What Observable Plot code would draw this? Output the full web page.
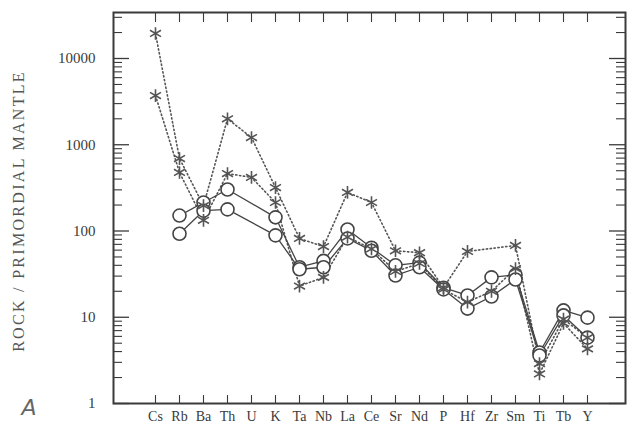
<!DOCTYPE html>
<html>
<head>
<meta charset="utf-8">
<script src="https://cdn.jsdelivr.net/npm/d3@7"></script>
<script src="https://cdn.jsdelivr.net/npm/@observablehq/plot@0.6"></script>
<style>
  html, body { margin: 0; padding: 0; background: #fff; }
  #chart { width: 630px; height: 435px; }
</style>
</head>
<body>
<div id="chart"></div>
<script>
// Categories (elements, x axis)
const elements = ["Cs","Rb","Ba","Th","U","K","Ta","Nb","La","Ce","Sr","Nd","P","Hf","Zr","Sm","Ti","Tb","Y"];
// Open-circle series (solid lines)
const circleA = [null,151,214,303,null,144,38,45,104,64,40,43,22,17.9,29,31,3.9,12,9.9];
const circleB = [null,93,172,178,null,89,36,38,82,59,30.5,38,21,12.6,17.4,27.4,3.6,10.5,5.8];
// Asterisk series (dotted lines)
const starA = [19500,692,197,2000,1213,319,82,66,280,214,59,56,22,58,null,68,2.9,9.5,5.8];
const starB = [3720,477,133,464,418,214,23,29,85,62,34,42,21,15,20,36.7,2.2,8.5,4.3];
// Axis ticks and labels
const yTicks = [1,10,100,1000,10000];
const yMinor = [2,3,4,5,6,7,8,9,20,30,40,50,60,70,80,90,200,300,400,500,600,700,800,900,2000,3000,4000,5000,6000,7000,8000,9000,20000,30000];
const yLabel = ["ROCK / PRIMORDIAL MANTLE"];
const panelLabel = ["A"];

function tidy(values, series) {
  return elements.map((e, i) => ({element: e, value: values[i], series}))
    .filter(d => d.value != null);
}
const circles = [...tidy(circleA, "cA"), ...tidy(circleB, "cB")];
const stars = [...tidy(starA, "sA"), ...tidy(starB, "sB")];

const W = 630, H = 435, mL = 113, mR = 5, mT = 12, mB = 32;
const fw = W - mL - mR, fh = H - mT - mB;
const ink = "#3a3a3a";

const chart = Plot.plot({
  width: W, height: H,
  marginLeft: mL, marginRight: mR, marginTop: mT, marginBottom: mB,
  style: {fontFamily: "Liberation Serif, serif", fontSize: "13px", color: ink, background: "#fff"},
  x: {type: "point", domain: elements, range: [139, 603], axis: null, label: null},
  y: {type: "log", domain: [1, 10000], range: [403, 58], axis: null, label: null},
  marks: [
    // inward ticks
    Plot.ruleY(yTicks, {y: d => d, insetRight: fw - 16, stroke: ink, strokeWidth: 1.3}),
    Plot.ruleY(yMinor, {y: d => d, insetRight: fw - 9, stroke: ink, strokeWidth: 1.1}),
    Plot.ruleY(yTicks, {y: d => d, insetLeft: fw - 16, stroke: ink, strokeWidth: 1.3}),
    Plot.ruleY(yMinor, {y: d => d, insetLeft: fw - 9, stroke: ink, strokeWidth: 1.1}),
    Plot.ruleX(elements, {x: d => d, insetBottom: fh - 10, stroke: ink, strokeWidth: 1.1}),
    Plot.ruleX(elements, {x: d => d, insetTop: fh - 8, stroke: ink, strokeWidth: 1.1}),
    // axes labels
    Plot.axisY({ticks: yTicks, tickSize: 0, tickPadding: 18, tickFormat: d => String(d), fontSize: 15, label: null}),
    Plot.axisX({tickSize: 0, tickPadding: 8, fontSize: 14, label: null}),
    // lines
    Plot.line(stars, {x: "element", y: "value", z: "series", stroke: "#555", strokeWidth: 1.6, strokeDasharray: "1.3,2.6"}),
    Plot.line(circles, {x: "element", y: "value", z: "series", stroke: "#444", strokeWidth: 1.3}),
    // markers
    Plot.dot(circles, {x: "element", y: "value", r: 6.5, fill: "#fff", stroke: "#444", strokeWidth: 1.6}),
    Plot.dot(stars, {x: "element", y: "value", symbol: "asterisk", r: 6, stroke: "#555", strokeWidth: 1.6}),
    // frame
    Plot.frame({stroke: ink, strokeWidth: 2}),
    // y axis title
    Plot.text(yLabel, {frameAnchor: "left", dx: -95, dy: 3, rotate: -90, textAnchor: "middle", fontSize: 16, fill: "#555",
      fontFamily: "Liberation Serif, serif"}),
    // panel label
    Plot.text(panelLabel, {frameAnchor: "bottom-left", dx: -92, dy: 11, fontSize: 22, fill: "#666",
      fontFamily: "DejaVu Sans, sans-serif", fontStyle: "italic", fontWeight: 300})
  ]
});
// widen the letter spacing of the rotated axis title, as in the scanned original
d3.select(chart).selectAll("text")
  .filter(function () { return this.textContent === yLabel[0]; })
  .attr("letter-spacing", "2.3px");
document.getElementById("chart").appendChild(chart);
</script>
</body>
</html>
